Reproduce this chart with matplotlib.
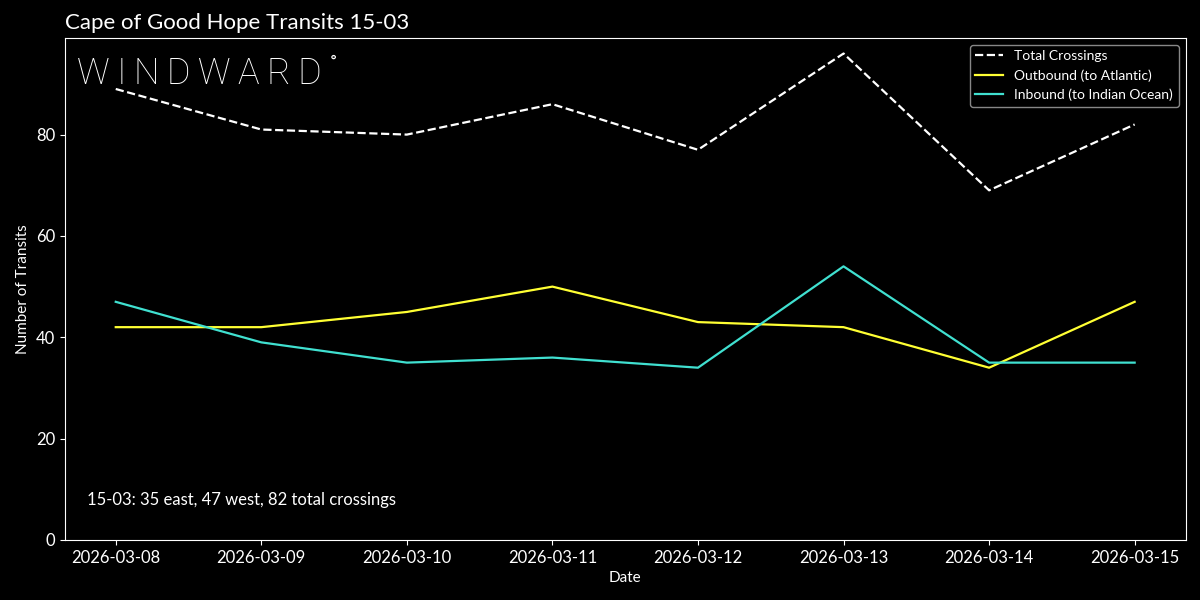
import matplotlib
matplotlib.use("Agg")
import matplotlib.pyplot as plt
import pandas as pd

# data
dates = ["2026-03-08", "2026-03-09", "2026-03-10", "2026-03-11",
         "2026-03-12", "2026-03-13", "2026-03-14", "2026-03-15"]
total = [89, 81, 80, 86, 77, 96, 69, 82]
outbound = [42, 42, 45, 50, 43, 42, 34, 47]
inbound = [47, 39, 35, 36, 34, 54, 35, 35]

plt.rcParams['font.family'] = ['Lato', 'DejaVu Sans']

x = pd.to_datetime(dates)

fig, ax = plt.subplots(figsize=(12, 6), dpi=100)
fig.patch.set_facecolor("black")
ax.set_facecolor("black")

ax.plot(x, total, "--", color="white", linewidth=1.6, label="Total Crossings")
ax.plot(x, outbound, color="#ffff33", linewidth=1.6, label="Outbound (to Atlantic)")
ax.plot(x, inbound, color="#40e0d0", linewidth=1.6, label="Inbound (to Indian Ocean)")

ax.set_ylim(bottom=0)
ax.set_xticks(x)
ax.set_xticklabels(dates)

for s in ax.spines.values():
    s.set_color("white")
ax.tick_params(colors="white", labelsize=12)
ax.set_xlabel("Date", color="white", fontsize=11)
ax.set_ylabel("Number of Transits", color="white", fontsize=11)
ax.set_title("Cape of Good Hope Transits 15-03", color="white", fontsize=16, loc="left")

leg = ax.legend(loc="upper right", facecolor="black", edgecolor="#aaaaaa", fontsize=10)
for t in leg.get_texts():
    t.set_color("white")

# logo and note
logo = "\u2009".join("WINDWARD")
ax.text(0.011, 0.927, logo, transform=ax.transAxes, color="white",
        fontsize=26, fontweight="light", family="Roboto", va="center", ha="left")
ax.text(0.2365, 0.95, "°", transform=ax.transAxes, color="white",
        fontsize=14, family="Roboto", va="center", ha="left")
ax.text(0.02, 0.07, "15-03: 35 east, 47 west, 82 total crossings",
        transform=ax.transAxes, color="white", fontsize=12)

fig.subplots_adjust(left=0.054, right=0.988, top=0.937, bottom=0.1)
fig.savefig("out.png", facecolor="black")
